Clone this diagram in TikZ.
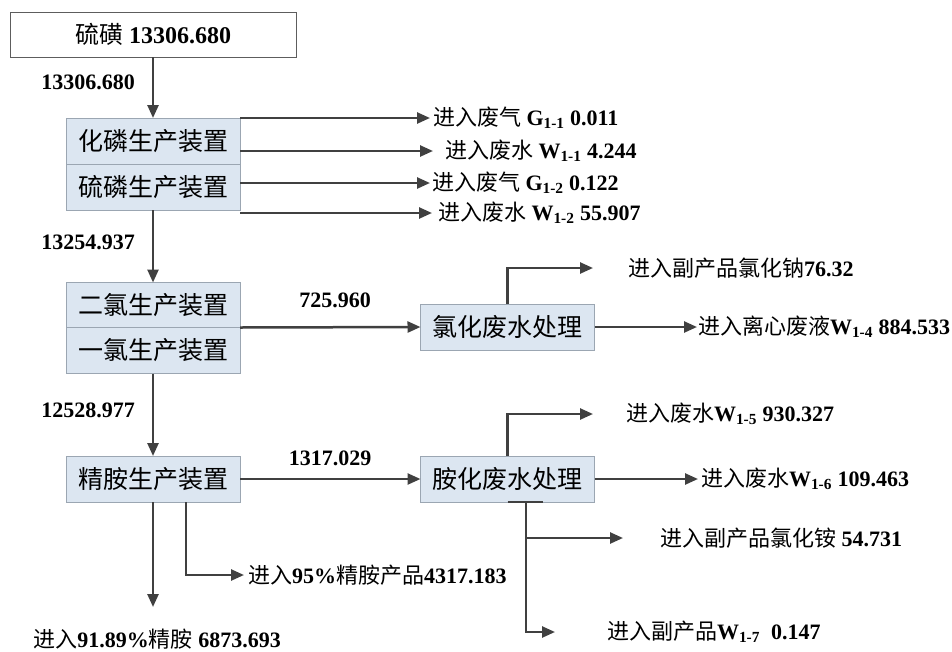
\documentclass[tikz,border=0pt]{standalone}
\usepackage{fontspec}
\setmainfont{Liberation Serif}
\newfontfamily\cjk{Noto Sans CJK SC}
\newcommand{\zh}[1]{{\cjk #1}}
\usepackage{xcolor}
\usepackage{tikz}
\usetikzlibrary{positioning,arrows.meta}
\definecolor{flowgray}{HTML}{404040}
\definecolor{boxfill}{HTML}{DCE6F1}
\definecolor{boxedge}{HTML}{9BA6B2}

\begin{document}
\begin{tikzpicture}[x=1pt, y=-1pt, >={Triangle[length=13pt,width=11pt]},
  box/.style={rectangle, draw=boxedge, fill=boxfill, line width=0.9pt,
    minimum width=174pt, minimum height=46pt, inner sep=0pt, outer sep=0pt,
    font=\fontsize{25}{30}\selectfont\cjk},
  srcbox/.style={rectangle, draw=flowgray!85, fill=white, line width=1pt,
    minimum width=286pt, minimum height=45pt, inner sep=0pt, outer sep=0pt,
    font=\fontsize{24}{28}\selectfont},
  flow/.style={draw=flowgray, line width=2.5pt},
  lab/.style={anchor=west, inner ysep=1pt, inner xsep=#1, outer sep=0pt,
    font=\fontsize{22}{26}\selectfont},
  lab/.default=1pt,
  num/.style={inner sep=0pt, font=\fontsize{22}{26}\selectfont\bfseries}]
  \useasboundingbox (0,0) rectangle (952,651);

  % main line
  \node[srcbox] (src) at (153,34.5) {\zh{硫磺} \textbf{13306.680}};
  \node[box] (ph1) at (153,141) {化磷生产装置};
  \node[box, below=0pt of ph1] (ph2) {硫磷生产装置};
  \node[box, minimum height=45pt] (cl1) at (153,305) {二氯生产装置};
  \node[box, below=0pt of cl1] (cl2) {一氯生产装置};
  \node[box] (am) at (153,479) {精胺生产装置};
  \node[box] (clw) at (507.5,327) {氯化废水处理};
  \node[box] (amw) at (507.5,479) {胺化废水处理};

  \node[num] (f1) at (88,82) {13306.680};
  \node[num] (f2) at (88,242) {13254.937};
  \node[num] (f3) at (88,410) {12528.977};
  \node[num] (f4) at (335,300) {725.960};
  \node[num] (f5) at (330,458) {1317.029};

  % outlets
  \node[lab=3pt]  (g11) at (430,118) {\zh{进入废气} \textbf{G\textsubscript{1-1} 0.011}};
  \node[lab=12pt] (w11) at (433,151) {\zh{进入废水} \textbf{W\textsubscript{1-1} 4.244}};
  \node[lab=2pt]  (g12) at (430,183) {\zh{进入废气} \textbf{G\textsubscript{1-2} 0.122}};
  \node[lab=6pt]  (w12) at (432,213) {\zh{进入废水} \textbf{W\textsubscript{1-2} 55.907}};
  \node[lab=0pt]  (nacl) at (628,268) {\zh{进入副产品氯化钠}\textbf{76.32}};
  \node[lab=1pt]  (w14) at (697,327) {\zh{进入离心废液}\textbf{W\textsubscript{1-4} 884.533}};
  \node[lab=0pt]  (w15) at (626,414) {\zh{进入废水}\textbf{W\textsubscript{1-5} 930.327}};
  \node[lab=3pt]  (w16) at (698,479) {\zh{进入废水}\textbf{W\textsubscript{1-6} 109.463}};
  \node[lab=0pt]  (nh4) at (660,538) {\zh{进入副产品氯化铵} \textbf{54.731}};
  \node[lab=0pt]  (w17) at (607,632) {\zh{进入副产品}\textbf{W\textsubscript{1-7}\ \ 0.147}};
  \node[lab=4pt]  (p95) at (244,575) {\zh{进入}\textbf{95\%}\zh{精胺产品}\textbf{4317.183}};
  \node[lab=0pt, anchor=center] (p9189) at (157,639) {\zh{进入}\textbf{91.89\%}\zh{精胺} \textbf{6873.693}};

  \coordinate (naclTip) at (593,268);
  \coordinate (w15Tip) at (593,414);
  \coordinate (nh4Tip) at (623,538);
  \coordinate (w17Tip) at (555,632);
  \coordinate (p9189Tip) at (153,607);
  \coordinate (amDrop) at ([xshift=33pt]am.south);
  \coordinate (amwDrop) at ([xshift=18.5pt]amw.south);

  \draw[flow,->] (src) -- (ph1);
  \draw[flow,->] (ph2) -- (cl1);
  \draw[flow,->] (cl2) -- (am);
  \draw[flow,->] (ph1.north east) -- (g11.west);
  \draw[flow,->] (w11.west -| ph1.east) -- (w11.west);
  \draw[flow,->] (g12.west -| ph2.east) -- (g12.west);
  \draw[flow,->] (w12.west -| ph2.east) -- (w12.west);
  \draw[flow,->] (cl1.south east) -- (clw.west);
  \draw[flow,->] (clw.north) |- (naclTip);
  \draw[flow,->] (clw.east) -- (w14.west);
  \draw[flow,->] (am.east) -- (amw.west);
  \draw[flow,->] (amw.north) |- (w15Tip);
  \draw[flow,->] (amw.east) -- (w16.west);
  \draw[flow] (amw.south) -- ++(35,0);
  \draw[flow,->] (amwDrop) |- (w17Tip);
  \draw[flow,->] (amwDrop |- nh4Tip) -- (nh4Tip);
  \draw[flow,->] (am) -- (p9189Tip);
  \draw[flow,->] (amDrop) |- (p95.west);
\end{tikzpicture}
\end{document}
